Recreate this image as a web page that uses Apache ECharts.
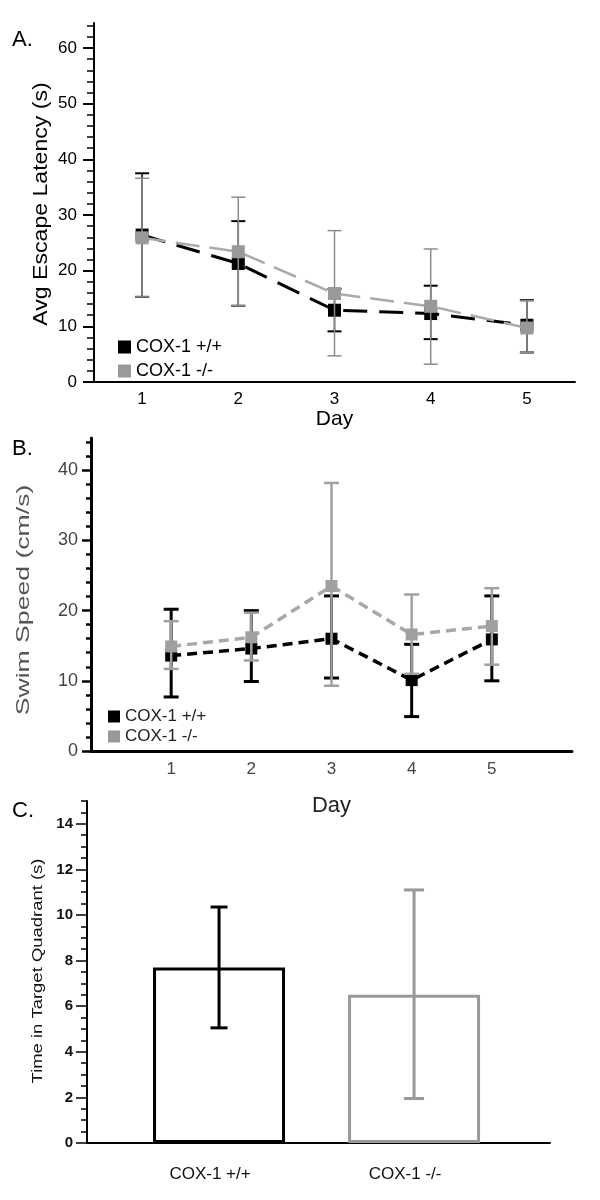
<!DOCTYPE html>
<html>
<head>
<meta charset="utf-8">
<script src="https://cdn.jsdelivr.net/npm/echarts@6/dist/echarts.min.js"></script>
<style>
html,body{margin:0;padding:0;background:#fff;}
#chart{width:600px;height:1200px;}
</style>
</head>
<body>
<div id="chart"></div>
<script>
// ---------- data ----------
const days = [1, 2, 3, 4, 5];
const seriesNames = ['COX-1 +/+', 'COX-1 -/-'];

// Panel A: Avg escape latency (s)
const latWT = [26.4, 21.3, 12.9, 12.3, 10.2];
const latWTLow = [15.3, 13.7, 9.1, 7.7, 5.3];
const latWTHigh = [37.5, 28.9, 16.7, 17.3, 14.7];
const latKO = [25.9, 23.4, 15.9, 13.6, 9.7];
const latKOLow = [15.3, 13.7, 4.7, 3.2, 5.3];
const latKOHigh = [36.6, 33.2, 27.2, 23.9, 14.6];
const yTicksA = [0, 10, 20, 30, 40, 50, 60];
const yMinorA = [2,4,6,8,12,14,16,18,22,24,26,28,32,34,36,38,42,44,46,48,52,54,56,58,62,64];

// Panel B: Swim speed (cm/s)
const spdWT = [13.6, 14.6, 16.0, 10.1, 15.9];
const spdWTLow = [7.7, 9.9, 10.4, 4.9, 10.0];
const spdWTHigh = [20.2, 20.0, 22.1, 15.2, 22.1];
const spdKO = [14.9, 16.2, 23.5, 16.6, 17.8];
const spdKOLow = [11.7, 12.9, 9.3, 11.0, 12.3];
const spdKOHigh = [18.5, 19.7, 38.2, 22.3, 23.2];
const yTicksB = [0, 10, 20, 30, 40];
const yMinorB = [2,4,6,8,12,14,16,18,22,24,26,28,32,34,36,38,42,44];

// Panel C: Time in target quadrant (s)
const groups = ['COX-1 +/+', 'COX-1 -/-'];
const groupPos = [1, 2];
const quadMean = [7.7, 6.5];
const quadLow = [5.05, 1.95];
const quadHigh = [10.35, 11.1];
const yTicksC = [0, 2, 4, 6, 8, 10, 12, 14];
const yMinorC = [0.5,1,1.5,2.5,3,3.5,4.5,5,5.5,6.5,7,7.5,8.5,9,9.5,10.5,11,11.5,12.5,13,13.5,14.5,15];

// ---------- helpers ----------
const FONT = 'Liberation Sans, Arial, Helvetica, sans-serif';

function errSeries(xi, yi, xs, lo, hi, color, lw, capW, capLw, z) {
  return {
    type: 'custom', name: 'err' + xi + color, xAxisIndex: xi, yAxisIndex: yi,
    silent: true, z: z, clip: false,
    data: xs.map((x, i) => [x, lo[i], hi[i]]),
    encode: { x: 0, y: [1, 2] },
    renderItem: function (params, api) {
      const x = api.value(0);
      const a = api.coord([x, api.value(2)]);
      const b = api.coord([x, api.value(1)]);
      const h = capW / 2;
      return {
        type: 'group',
        children: [
          { type: 'line', shape: { x1: a[0], y1: a[1], x2: b[0], y2: b[1] }, style: { stroke: color, lineWidth: lw } },
          { type: 'line', shape: { x1: a[0] - h, y1: a[1], x2: a[0] + h, y2: a[1] }, style: { stroke: color, lineWidth: capLw } },
          { type: 'line', shape: { x1: b[0] - h, y1: b[1], x2: b[0] + h, y2: b[1] }, style: { stroke: color, lineWidth: capLw } }
        ]
      };
    }
  };
}

function lineSeries(name, xi, yi, xs, ys, color, lineColor, width, dash, size, z) {
  return {
    type: 'line', name: name, xAxisIndex: xi, yAxisIndex: yi, z: z,
    data: xs.map((x, i) => [x, ys[i]]),
    symbol: 'rect', symbolSize: size, showSymbol: true,
    itemStyle: { color: color },
    lineStyle: { color: lineColor, width: width, type: dash },
    emphasis: { disabled: true }, silent: true
  };
}

function majorY(gi, max, ticks, opts) {
  return {
    type: 'value', gridIndex: gi, min: 0, max: max, position: 'left',
    axisLine: { show: true, lineStyle: { color: '#000', width: opts.lineW } },
    axisTick: { show: true, customValues: ticks, length: opts.tickLen, lineStyle: { color: '#000', width: opts.tickW } },
    axisLabel: { customValues: ticks, margin: opts.margin, fontSize: opts.fontSize, fontWeight: opts.fontWeight || 'normal', color: opts.color, fontFamily: FONT },
    splitLine: { show: false }
  };
}
function minorY(gi, max, ticks, len, w) {
  return {
    type: 'value', gridIndex: gi, min: 0, max: max, position: 'left', offset: 0,
    axisLine: { show: false },
    axisTick: { show: true, customValues: ticks, length: len, lineStyle: { color: '#000', width: w } },
    axisLabel: { show: false },
    splitLine: { show: false }
  };
}

const option = {
  animation: false,
  backgroundColor: '#fff',
  textStyle: { fontFamily: FONT },
  grid: [
    { left: 94, right: 25, top: 23, bottom: 818 },
    { left: 91, right: 28, top: 438, bottom: 449 },
    { left: 87, right: 50, top: 801, bottom: 57 }
  ],
  xAxis: [
    {
      type: 'value', gridIndex: 0, min: 0.5, max: 5.5,
      name: 'Day', nameLocation: 'middle', nameGap: 27,
      nameTextStyle: { fontSize: 21, color: '#000', fontFamily: FONT, verticalAlign: 'top' },
      axisLine: { lineStyle: { color: '#000', width: 2 } },
      axisTick: { show: false },
      axisLabel: { customValues: days, margin: 9, fontSize: 17, color: '#000', fontFamily: FONT },
      splitLine: { show: false }
    },
    {
      type: 'value', gridIndex: 1, min: 0, max: 6,
      name: 'Day', nameLocation: 'middle', nameGap: 44,
      nameTextStyle: { fontSize: 22, color: '#222', fontFamily: FONT, verticalAlign: 'top' },
      axisLine: { lineStyle: { color: '#000', width: 3 } },
      axisTick: { show: false },
      axisLabel: { customValues: days, margin: 10, fontSize: 17, color: '#444', fontFamily: FONT },
      splitLine: { show: false }
    },
    {
      type: 'value', gridIndex: 2, min: 0.323, max: 2.697,
      axisLine: { lineStyle: { color: '#000', width: 2 } },
      axisTick: { show: false },
      axisLabel: {
        customValues: groupPos, formatter: v => groups[Math.round(v) - 1] || '',
        margin: 23, padding: [0, 18, 0, 0], fontSize: 17, color: '#111', fontFamily: FONT
      },
      splitLine: { show: false }
    }
  ],
  yAxis: [
    majorY(0, 64.5, yTicksA, { lineW: 2, tickLen: 11, tickW: 2, margin: 17, fontSize: 17, color: '#000' }),
    minorY(0, 64.5, yMinorA, 7, 1.5),
    majorY(1, 44.6, yTicksB, { lineW: 3, tickLen: 9, tickW: 2.5, margin: 13, fontSize: 18, color: '#444' }),
    minorY(1, 44.6, yMinorB, 5, 2.5),
    majorY(2, 15, yTicksC, { lineW: 2, tickLen: 11, tickW: 1.5, margin: 14, fontSize: 15, fontWeight: 'bold', color: '#111' }),
    minorY(2, 15, yMinorC, 6, 1.5)
  ],
  legend: [
    {
      data: seriesNames, left: 113, top: 333, orient: 'vertical', icon: 'rect',
      itemWidth: 13, itemHeight: 13, itemGap: 6, selectedMode: false,
      textStyle: { fontSize: 18, lineHeight: 18, color: '#000', fontFamily: FONT }
    },
    {
      data: seriesNames, left: 103, top: 703, orient: 'vertical', icon: 'rect',
      itemWidth: 12, itemHeight: 12, itemGap: 3, selectedMode: false,
      textStyle: { fontSize: 17, lineHeight: 17, color: '#222', fontFamily: FONT }
    }
  ],
  series: [
    // Panel A
    errSeries(0, 0, days, latWTLow, latWTHigh, '#000', 1.5, 14, 2, 2),
    lineSeries(seriesNames[0], 0, 0, days, latWT, '#000', '#000', 3, [24, 12], 13, 3),
    errSeries(0, 0, days, latKOLow, latKOHigh, '#8c8c8c', 1.5, 14, 1.5, 4),
    lineSeries(seriesNames[1], 0, 0, days, latKO, '#999', '#aaa', 2.5, [24, 10], 13, 5),
    // Panel B
    errSeries(1, 2, days, spdWTLow, spdWTHigh, '#000', 3, 15, 3, 2),
    lineSeries(seriesNames[0], 1, 2, days, spdWT, '#000', '#000', 3.5, [10, 6], 12, 3),
    errSeries(1, 2, days, spdKOLow, spdKOHigh, '#a0a0a0', 2.5, 15, 2.5, 4),
    lineSeries(seriesNames[1], 1, 2, days, spdKO, '#a0a0a0', '#a8a8a8', 3.5, [10, 6], 12, 5),
    // Panel C
    {
      type: 'bar', name: 'C', xAxisIndex: 2, yAxisIndex: 4, barWidth: 132, silent: true, z: 2,
      data: quadMean.map((v, i) => ({
        value: [groupPos[i], v],
        itemStyle: { color: '#fff', borderColor: i === 0 ? '#000' : '#999', borderWidth: 3 }
      }))
    },
    errSeries(2, 4, groupPos.slice(0, 1), quadLow.slice(0, 1), quadHigh.slice(0, 1), '#000', 3, 17, 3, 4),
    errSeries(2, 4, groupPos.slice(1, 2), quadLow.slice(1, 2), quadHigh.slice(1, 2), '#999', 3, 20, 3, 4)
  ],
  graphic: [
    { type: 'text', x: 12, y: 40, style: { text: 'A.', font: '22px ' + FONT, fill: '#000', verticalAlign: 'middle' } },
    { type: 'text', x: 12, y: 449, style: { text: 'B.', font: '22px ' + FONT, fill: '#000', verticalAlign: 'middle' } },
    { type: 'text', x: 12, y: 811, style: { text: 'C.', font: '22px ' + FONT, fill: '#000', verticalAlign: 'middle' } },
    { type: 'text', x: 41, y: 204, rotation: Math.PI / 2, scaleX: 1.1, style: { text: 'Avg Escape Latency (s)', font: '21px ' + FONT, fill: '#000', align: 'center', verticalAlign: 'middle' } },
    { type: 'text', x: 24, y: 600, rotation: Math.PI / 2, scaleX: 1.4, style: { text: 'Swim Speed (cm/s)', font: '19px ' + FONT, fill: '#555', align: 'center', verticalAlign: 'middle' } },
    { type: 'text', x: 38, y: 971, rotation: Math.PI / 2, scaleX: 1.23, style: { text: 'Time in Target Quadrant (s)', font: '15px ' + FONT, fill: '#111', align: 'center', verticalAlign: 'middle' } }
  ]
};

const chart = echarts.init(document.getElementById('chart'), null, { renderer: 'canvas' });
chart.setOption(option);
</script>
</body>
</html>
